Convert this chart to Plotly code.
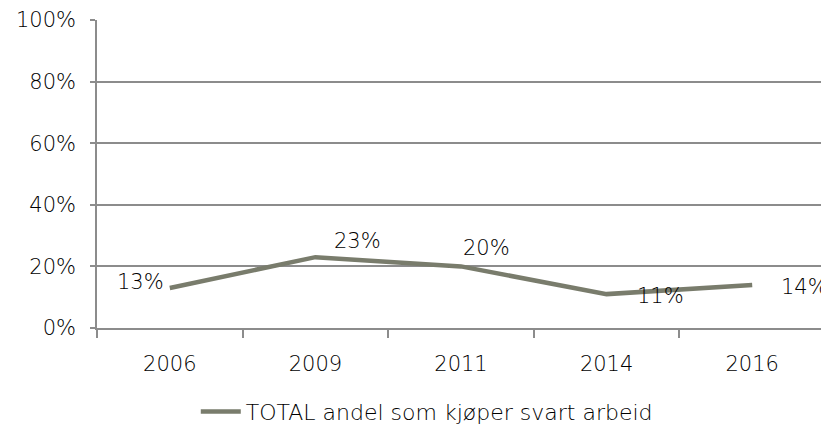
import plotly.graph_objects as go

years = ["2006", "2009", "2011", "2014", "2016"]
values = [0.13, 0.23, 0.20, 0.11, 0.14]
labels = ["13%", "23%", "20%", "11%", "14%"]
label_anchor = ["right", "left", "left", "left", "left"]
label_dx = [-4, 17, 0, 28, 27]
label_dy = [6, 16, 18, -2, -2]
series_name = "TOTAL andel som kjøper svart arbeid"

FONT = "'DejaVu Sans', sans-serif"
GRID = "#8c8c8c"
TXT = "#000000"
W = 200
FS = 21

fig = go.Figure()
fig.add_trace(go.Scatter(
    x=years, y=values, mode="lines", name=series_name,
    line=dict(color="#797c6c", width=4.5),
    cliponaxis=False,
))
for i, (yv, t, a, dx, dy) in enumerate(zip(values, labels, label_anchor, label_dx, label_dy)):
    fig.add_annotation(x=i, y=yv, xref="x", yref="y", text=t, showarrow=False,
                       xanchor=a, yanchor="middle", xshift=dx, yshift=dy,
                       font=dict(size=FS, color=TXT, family=FONT, weight=W))

# page body has an 8px default margin, so the figure is sized 8px smaller
fig.update_layout(
    width=821, height=422,
    margin=dict(l=89, r=4, t=12, b=102, autoexpand=False),
    paper_bgcolor="white", plot_bgcolor="white",
    font=dict(family=FONT, size=FS, color=TXT, weight=W),
    showlegend=True,
    legend=dict(orientation="h", x=0.453, xanchor="center", y=-0.272, yanchor="middle",
                font=dict(size=22, color=TXT, weight=W), itemwidth=40),
)
fig.update_xaxes(
    type="category", range=[-0.5, 4.5], tickson="boundaries", automargin=False,
    ticks="outside", ticklen=8, tickcolor=GRID, tickwidth=1.5,
    showline=True, linecolor=GRID, linewidth=1.5, showgrid=False,
    tickfont=dict(size=FS, weight=W), ticklabelstandoff=16,
)
fig.update_yaxes(
    range=[0, 1], dtick=0.2, tickformat=".0%", automargin=False,
    showgrid=True, gridcolor=GRID, gridwidth=1.5,
    ticks="outside", ticklen=5, tickcolor=GRID, tickwidth=1.5,
    showline=True, linecolor=GRID, linewidth=1.5, zeroline=False,
    tickfont=dict(size=FS, weight=W), ticklabelstandoff=10,
)

fig.write_html("out.html")
